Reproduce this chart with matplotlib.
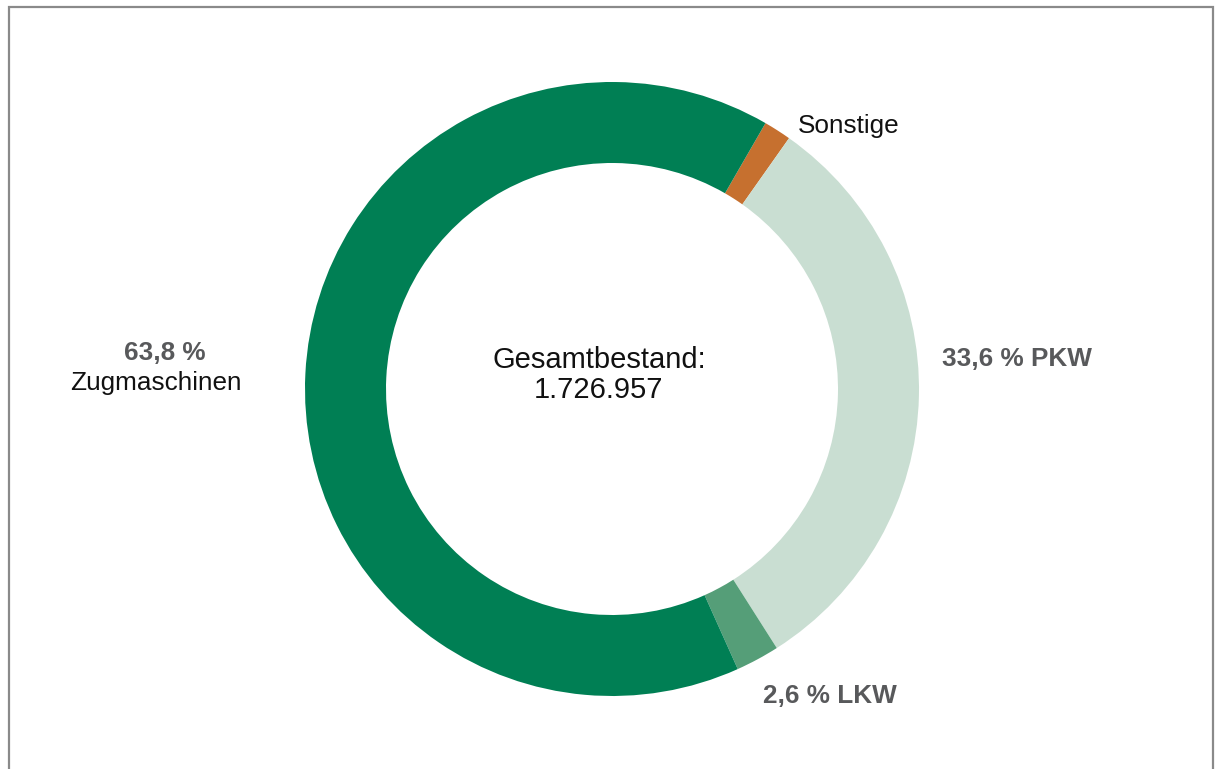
import matplotlib.pyplot as plt

# Fahrzeugbestand - Anteile (Winkel aus dem Bild gemessen)
categories = ['Sonstige', 'PKW', 'LKW', 'Zugmaschinen']
shares = [1.45, 31.2, 2.3, 65.05]
colors = ['#c6702f', '#c9ded2', '#559e78', '#007f54']
total_label = 'Gesamtbestand:\n1.726.957'
pct_labels = ['', '33,6 %', '2,6 %', '63,8 %']

W, H = 1217, 769
plt.rcParams['font.family'] = ['Liberation Sans', 'DejaVu Sans']

fig = plt.figure(figsize=(W / 100, H / 100), dpi=100)
ax = fig.add_axes([0, 0, 1, 1])

# donut, clockwise from the top right
ax.pie(shares, colors=colors, startangle=60, counterclock=False,
       radius=307, center=(612, H - 389),
       wedgeprops=dict(width=81, linewidth=0))

ax.set_xlim(0, W)
ax.set_ylim(0, H)
ax.set_aspect('equal')
ax.axis('off')

# grey frame (open at the bottom)
ax.plot([9, 9, 1213, 1213], [0, H - 7, H - 7, 0], color='#8a8a8a',
        lw=1.6, solid_joinstyle='miter', clip_on=False)

grey = '#58595b'
fs = 18.8

# center text
ax.text(599, H - 368, 'Gesamtbestand:', ha='center', va='baseline',
        fontsize=21, color='#111111')
ax.text(599, H - 398, '1.726.957', ha='center', va='baseline',
        fontsize=21, color='#111111')

# labels
ax.text(798, H - 133, categories[0], ha='left', va='baseline',
        fontsize=fs, color='#111111')
ax.text(942, H - 366, f'{pct_labels[1]} {categories[1]}', ha='left',
        va='baseline', fontsize=fs, fontweight='bold', color=grey)
ax.text(763, H - 703, f'{pct_labels[2]} {categories[2]}', ha='left',
        va='baseline', fontsize=fs, fontweight='bold', color=grey)
ax.text(165, H - 360, pct_labels[3], ha='center', va='baseline',
        fontsize=fs, fontweight='bold', color=grey)
ax.text(156, H - 390, categories[3], ha='center', va='baseline',
        fontsize=fs, color='#111111')

plt.savefig('out.png', dpi=100)
